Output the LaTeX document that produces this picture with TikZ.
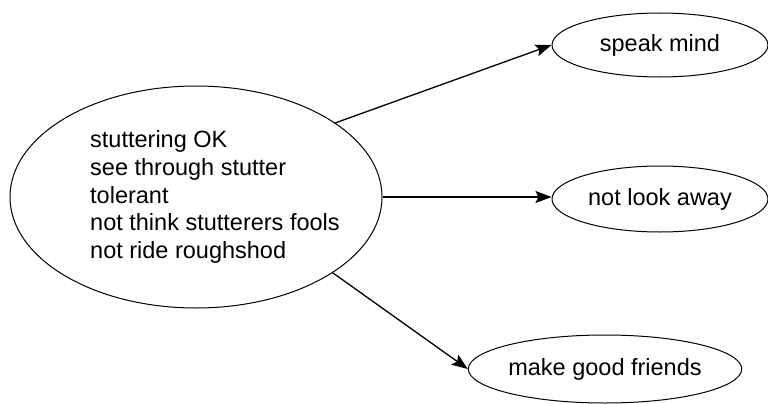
\documentclass[tikz,border=0pt]{standalone}
\usepackage{fontspec}
\setmainfont{Liberation Sans}
\usetikzlibrary{shapes.geometric, arrows.meta}

\begin{document}
\begin{tikzpicture} [x=1pt, y=-1pt, bubble/.style={ellipse, draw, line width=1pt, inner sep=0pt}, >={Stealth[length=16pt, width=12pt, inset=3pt]}, font=\fontsize{23.5}{27.75}\selectfont]
  \useasboundingbox (0,0) rectangle (768,404);
  \draw (196,197) node[bubble, minimum width=372, minimum height=222](hub) {};
  \draw (90,197)  node[anchor=west, inner sep=0pt, align=left](hubtxt) {stuttering OK\\see through stutter\\tolerant\\not think stutterers fools\\not ride roughshod};
  \draw (660,45)  node[bubble, minimum width=216, minimum height=64](spk) {speak mind};
  \draw (660,199) node[bubble, minimum width=216, minimum height=66](nla) {not look away};
  \draw (605,369) node[bubble, minimum width=262, minimum height=68](mgf) {make good friends};

\path (hub.28)  edge[->, line width=1.3pt] (spk.west)
      (hub.east) edge[->, line width=1.3pt] (hub.east -| nla.west)
      (hub.-29) edge[->, line width=1.3pt] (mgf.west);
\end{tikzpicture}
\end{document}
